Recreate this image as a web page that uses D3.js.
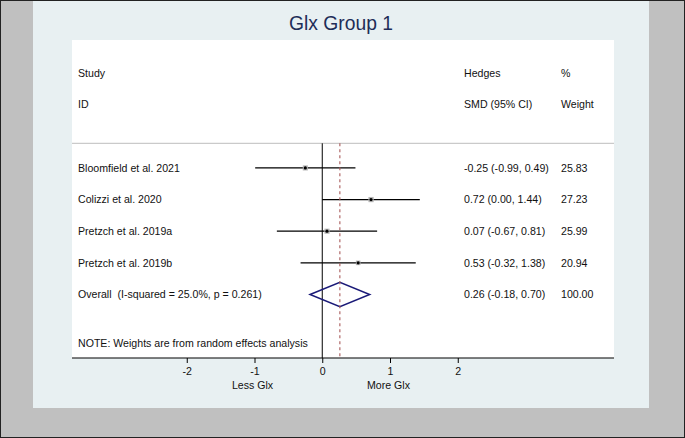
<!DOCTYPE html>
<html lang="en">
<head>
<meta charset="utf-8">
<title>Glx Group 1</title>
<style>
  body { margin: 0; background: #c0c0c0; }
  svg { display: block; font-family: "Liberation Sans", Arial, sans-serif; }
  text { white-space: pre; }
</style>
</head>
<body>
<div id="chart"></div>
<script src="https://d3js.org/d3.v7.min.js"></script>
<script>
// data
const studies = ["Bloomfield et al. 2021", "Colizzi et al. 2020", "Pretzch et al. 2019a", "Pretzch et al. 2019b"];
const smd = [-0.25, 0.72, 0.07, 0.53];
const ciLow = [-0.99, 0.00, -0.67, -0.32];
const ciHigh = [0.49, 1.44, 0.81, 1.38];
const weights = ["25.83", "27.23", "25.99", "20.94"];
const overall = { label: "Overall  (I-squared = 25.0%, p = 0.261)", est: 0.26, lo: -0.18, hi: 0.70, weight: "100.00" };
const xTicks = [-2, -1, 0, 1, 2];

const width = 685, height = 438;

const svg = d3.select("#chart").append("svg")
    .attr("width", width)
    .attr("height", height);

// outer frame + panel
svg.append("rect").attr("x", 0.5).attr("y", 0.5).attr("width", width - 1).attr("height", height - 1)
    .attr("fill", "#c0c0c0").attr("stroke", "#222");
svg.append("rect").attr("x", 33).attr("y", 1).attr("width", 616).attr("height", 407)
    .attr("fill", "#e8f0f2");
svg.append("rect").attr("x", 72).attr("y", 40).attr("width", 542).attr("height", 318)
    .attr("fill", "#fff");

svg.append("text")
    .attr("x", 341).attr("y", 29.5)
    .attr("text-anchor", "middle")
    .attr("fill", "#1e2d58")
    .style("font-size", "19.3px")
    .text("Glx Group 1");

const x = d3.scaleLinear().domain([-1, 1]).range([254.5, 390]);
const row = d3.scaleLinear().domain([0, 7]).range([73, 294.5]);
const fs = 10.6;
const base = fs * 0.36;

function label(xp, yc, txt) {
  svg.append("text")
      .attr("x", xp).attr("y", yc + base)
      .attr("fill", "#111")
      .style("font-size", fs + "px")
      .text(txt);
}

// headers
label(78, row(0), "Study");
label(78, row(1), "ID");
label(464, row(0), "Hedges");
label(464, row(1), "SMD (95% CI)");
label(561, row(0), "%");
label(561, row(1), "Weight");

// separator line
svg.append("line")
    .attr("x1", 72).attr("x2", 614).attr("y1", 143.3).attr("y2", 143.3)
    .attr("stroke", "#bdbdbd").attr("stroke-width", 1);

const axisY = 358;

// null line
svg.append("line")
    .attr("x1", x(0)).attr("x2", x(0)).attr("y1", 143.3).attr("y2", axisY)
    .attr("stroke", "#000").attr("stroke-width", 1);

const f = d => d.toFixed(2);

// study rows
studies.forEach((s, i) => {
  const yc = row(i + 3);
  label(78, yc, s);
  label(464, yc, `${f(smd[i])} (${f(ciLow[i])}, ${f(ciHigh[i])})`);
  label(561, yc, weights[i]);
  svg.append("line")
      .attr("x1", x(ciLow[i])).attr("x2", x(ciHigh[i]))
      .attr("y1", yc).attr("y2", yc)
      .attr("stroke", "#000").attr("stroke-width", 1.3);
  const side = 5 * Math.sqrt(+weights[i] / 25);
  svg.append("rect")
      .attr("x", x(smd[i]) - side / 2).attr("y", yc - side / 2)
      .attr("width", side).attr("height", side)
      .attr("fill", "#b5b5b5");
  svg.append("circle")
      .attr("cx", x(smd[i])).attr("cy", yc).attr("r", 1.6)
      .attr("fill", "#000");
});

// overall
const yo = row(7);
label(78, yo, overall.label);
label(464, yo, `${f(overall.est)} (${f(overall.lo)}, ${f(overall.hi)})`);
label(561, yo, overall.weight);
svg.append("path")
    .attr("d", `M${x(overall.lo)},${yo} L${x(overall.est)},${yo - 12.2} L${x(overall.hi)},${yo} L${x(overall.est)},${yo + 12.2} Z`)
    .attr("fill", "none")
    .attr("stroke", "#1a1a78")
    .attr("stroke-width", 1.5);

// pooled estimate line
svg.append("line")
    .attr("x1", x(overall.est)).attr("x2", x(overall.est)).attr("y1", 143.3).attr("y2", axisY)
    .attr("stroke", "#a85a5a").attr("stroke-width", 1.1)
    .attr("stroke-dasharray", "3,3");

label(78, 343, "NOTE: Weights are from random effects analysis");

// x axis
svg.append("line")
    .attr("x1", 72).attr("x2", 614).attr("y1", axisY).attr("y2", axisY)
    .attr("stroke", "#000").attr("stroke-width", 1.2);

const ax = svg.append("g").attr("transform", `translate(0,${axisY})`)
    .call(d3.axisBottom(x).tickValues(xTicks).tickSize(5).tickPadding(4).tickFormat(d => String(d)));
ax.select(".domain").remove();
ax.selectAll("text").style("font-size", fs + "px").style("font-family", "Liberation Sans, Arial, sans-serif").attr("fill", "#111");

svg.append("text").attr("x", x(-1) - 2).attr("y", 385 + base).attr("text-anchor", "middle")
    .attr("fill", "#111").style("font-size", fs + "px").text("Less Glx");
svg.append("text").attr("x", x(1) - 1.5).attr("y", 385 + base).attr("text-anchor", "middle")
    .attr("fill", "#111").style("font-size", fs + "px").text("More Glx");
</script>
</body>
</html>
